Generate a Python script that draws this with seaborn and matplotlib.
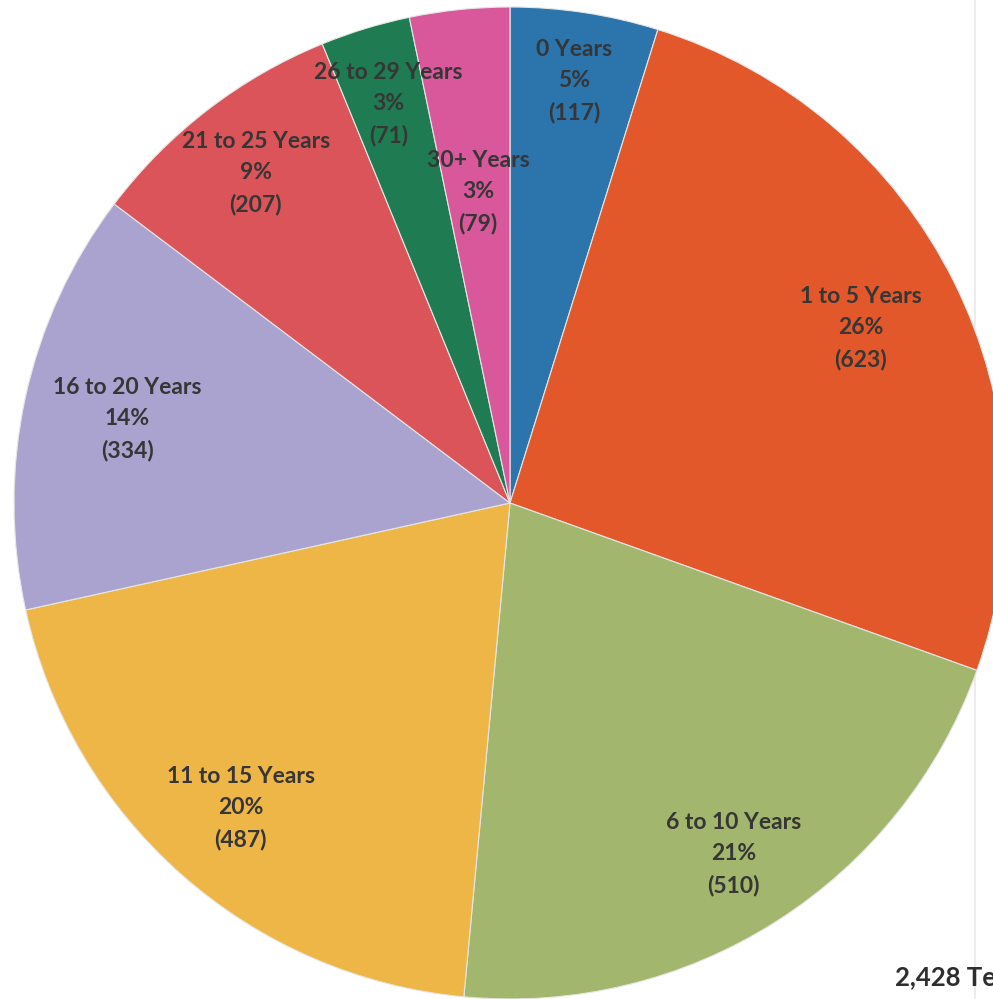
import numpy as np
import seaborn as sns
from matplotlib import pyplot as plt

categories = ['0 Years', '1 to 5 Years', '6 to 10 Years', '11 to 15 Years',
              '16 to 20 Years', '21 to 25 Years', '26 to 29 Years', '30+ Years']
counts = [117, 623, 510, 487, 334, 207, 71, 79]
colors = ['#2b74ac', '#e2582b', '#a2b66d', '#eeb646',
          '#aaa3cf', '#da5459', '#1f7b51', '#d9579b']
# how far out along the radius each label sits (Excel "best fit")
label_dist = [0.86, 0.79, 0.84, 0.82, 0.79, 0.84, 0.84, 0.63]
total_label = '2,428 Teachers'

sns.set_theme(style='white')
plt.rcParams['font.family'] = ['Lato', 'DejaVu Sans']

fig = plt.figure(figsize=(9.93, 9.99), dpi=100)
ax = fig.add_axes([0, 0, 1, 1])

# faint page edge from the scan
ax.axvline(975, color='#ececec', lw=1.5, zorder=0)

cx, cy, r = 510, 496, 496
wedges, _ = ax.pie(counts, colors=colors, startangle=90, counterclock=False,
                   center=(cx, cy), radius=r, frame=True,
                   wedgeprops=dict(edgecolor='#e6e6e6', linewidth=0.8))
ax.set_xlim(0, 993)
ax.set_ylim(0, 999)
ax.axis('off')

total = sum(counts)
for w, cat, n, d in zip(wedges, categories, counts, label_dist):
    ang = np.deg2rad((w.theta1 + w.theta2) / 2)
    x = cx + d * r * np.cos(ang)
    y = cy + d * r * np.sin(ang)
    ax.text(x, y, f"{cat}\n{n / total * 100:.0f}%\n({n})", ha='center', va='center',
            fontsize=16.5, fontweight='bold', color='#363636', linespacing=1.6)

fig.text(895 / 993, 1 - 985 / 999, total_label, ha='left', va='baseline',
         fontsize=18.5, fontweight='bold', color='#2e2e2e')

fig.savefig('out.png', dpi=100)
